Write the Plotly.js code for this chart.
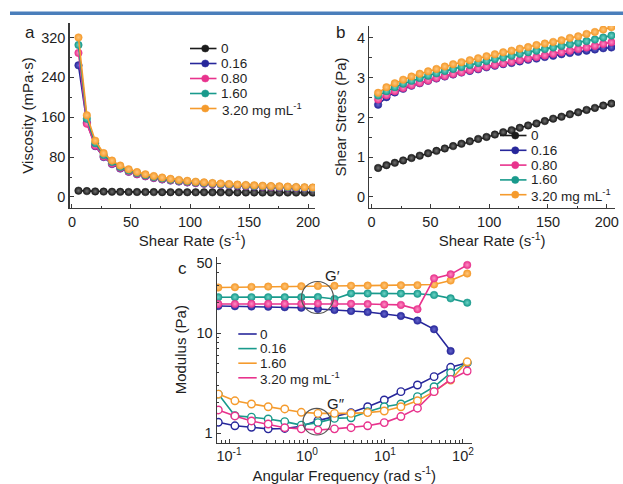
<!DOCTYPE html>
<html><head><meta charset="utf-8">
<script src="https://cdn.plot.ly/plotly-3.0.1.min.js"></script>
<style>html,body{margin:0;padding:0;background:#fff}</style>
</head><body><div id="chart" style="width:623px;height:484px"></div>
<script>
// ---------- DATA ----------
const concLabelsAB = ['0', '0.16', '0.80', '1.60', '3.20 mg mL<sup>-1</sup>'];
const concLabelsC = ['0', '0.16', '1.60', '3.20 mg mL<sup>-1</sup>'];

const shearRate = [5.5, 12.6, 19.7, 26.8, 33.9, 40.9, 48.0, 55.1, 62.2, 69.3, 76.4, 83.5, 90.6, 97.7,
  104.8, 111.9, 119.0, 126.0, 133.1, 140.2, 147.3, 154.4, 161.5, 168.6, 175.7, 182.8, 189.9, 197.0, 204.0];

// panel a: viscosity (mPa·s)
const visc0    = [12.7, 11.8, 11.2, 10.8, 10.5, 10.3, 10.1, 10.0, 9.9, 9.8, 9.7, 9.6, 9.5, 9.5, 9.4, 9.4, 9.3, 9.3, 9.2, 9.2, 9.1, 9.1, 9.0, 9.0, 8.9, 8.9, 8.9, 8.8, 8.8];
const visc016  = [264, 149, 102, 80, 66, 57, 50.5, 45.5, 41.5, 38, 35.3, 33, 31, 29.3, 27.8, 26.5, 25.3, 24.3, 23.4, 22.6, 21.8, 21.1, 20.4, 19.8, 19.2, 18.7, 18.2, 17.7, 17.3];
const visc080  = [289, 147, 103, 81, 67, 58, 51, 46, 42, 38.5, 35.8, 33.5, 31.5, 29.8, 28.3, 27, 25.8, 24.8, 23.8, 23, 22.2, 21.5, 20.8, 20.2, 19.6, 19.1, 18.6, 18.1, 17.7];
const visc160  = [305, 157, 108, 84, 70, 60, 53, 48, 43.5, 40, 37.2, 34.8, 32.7, 31, 29.4, 28, 26.8, 25.7, 24.7, 23.8, 23, 22.2, 21.5, 20.9, 20.3, 19.7, 19.2, 18.7, 18.2];
const visc320  = [320, 164, 113, 88, 73, 63, 55.5, 50, 45.5, 42, 39, 36.5, 34.3, 32.5, 30.8, 29.4, 28.1, 27, 26, 25, 24.2, 23.4, 22.7, 22, 21.4, 20.8, 20.2, 19.7, 19.2];

// panel b: shear stress (Pa)
const stress0   = [0.73, 0.80, 0.86, 0.92, 0.98, 1.04, 1.10, 1.16, 1.22, 1.28, 1.34, 1.40, 1.46, 1.51, 1.57, 1.63, 1.68, 1.74, 1.80, 1.85, 1.91, 1.97, 2.02, 2.08, 2.13, 2.19, 2.24, 2.30, 2.35];
const stress016 = [2.32, 2.51, 2.63, 2.72, 2.80, 2.86, 2.92, 2.98, 3.03, 3.08, 3.13, 3.17, 3.21, 3.26, 3.30, 3.34, 3.37, 3.41, 3.45, 3.48, 3.52, 3.55, 3.59, 3.62, 3.65, 3.68, 3.71, 3.74, 3.76];
const stress080 = [2.45, 2.56, 2.66, 2.74, 2.81, 2.87, 2.93, 2.99, 3.04, 3.09, 3.14, 3.19, 3.23, 3.28, 3.32, 3.36, 3.40, 3.44, 3.48, 3.52, 3.56, 3.60, 3.64, 3.68, 3.72, 3.76, 3.80, 3.85, 3.89];
const stress160 = [2.55, 2.66, 2.76, 2.85, 2.92, 2.99, 3.05, 3.11, 3.17, 3.22, 3.27, 3.32, 3.37, 3.42, 3.47, 3.51, 3.55, 3.60, 3.64, 3.68, 3.72, 3.76, 3.80, 3.84, 3.88, 3.92, 3.96, 4.01, 4.06];
const stress320 = [2.62, 2.76, 2.86, 2.95, 3.03, 3.10, 3.16, 3.22, 3.28, 3.34, 3.39, 3.44, 3.49, 3.54, 3.59, 3.64, 3.68, 3.73, 3.77, 3.82, 3.86, 3.90, 3.94, 4.00, 4.04, 4.10, 4.15, 4.21, 4.27];

// panel c: angular frequency (rad/s) and moduli (Pa)
const angFreq = [0.0729, 0.119, 0.194, 0.318, 0.518, 0.845, 1.38, 2.25, 3.67, 6.00, 9.79, 16.0, 26.1, 42.6, 69.5, 113.5];
const gP0   = [18.6, 18.5, 18.4, 18.3, 18.1, 17.9, 17.4, 17.0, 16.6, 16.2, 15.5, 14.8, 13.3, 10.9, 6.6];
const gP016 = [22.8, 22.8, 22.8, 22.8, 22.8, 22.8, 22.9, 21.9, 24.9, 24.9, 24.8, 24.8, 24.7, 24.0, 22.2, 20.1];
const gP160 = [28.5, 28.7, 28.9, 29.1, 29.2, 29.4, 29.5, 29.6, 29.7, 29.8, 29.9, 30.0, 30.1, 30.6, 33.5, 39.3];
const gP320 = [19.5, 19.5, 19.6, 19.6, 19.6, 19.6, 19.7, 19.7, 19.6, 19.5, 19.3, 19.1, 17.3, 35.2, 38.6, 47.9];
const gPP0   = [1.28, 1.18, 1.14, 1.10, 1.11, 1.17, 1.33, 1.46, 1.60, 1.83, 2.14, 2.59, 3.02, 3.66, 4.54, 5.05];
const gPP016 = [2.45, 1.49, 1.44, 1.38, 1.30, 1.20, 1.27, 1.40, 1.42, 1.63, 1.83, 1.95, 2.31, 2.90, 4.00, 5.05];
const gPP160 = [2.45, 2.10, 1.95, 1.83, 1.74, 1.61, 1.57, 1.57, 1.57, 1.60, 1.66, 1.83, 2.10, 2.59, 3.39, 5.15];
const gPP320 = [1.70, 1.48, 1.32, 1.23, 1.13, 1.10, 1.07, 1.10, 1.13, 1.18, 1.27, 1.46, 1.77, 2.59, 3.44, 4.17];

// ---------- STYLE ----------
const W = 623, H = 484;
const px = v => v / W, py = v => 1 - v / H;
const FONT = 'Liberation Sans, Arial, sans-serif';
const TXT = '#1e1e1e';
const C = {black: '#1b1b1b', blue: '#27279b', pink: '#e8338d', teal: '#199a8c', orange: '#f59b2d'};
const HI = {black: '#707070', blue: '#6666cc', pink: '#ff8dc4', teal: '#6ed4c6', orange: '#ffc67a'};
const abColors = ['black', 'blue', 'pink', 'teal', 'orange'];
const cColors = ['blue', 'teal', 'orange', 'pink'];

function ballTrace(x, y, col, xa, ya) {
  return {x: x, y: y, xaxis: xa, yaxis: ya, type: 'scatter', mode: 'lines+markers', showlegend: false,
    line: {color: C[col], width: 1.6},
    marker: {size: 7.5, color: C[col], line: {width: 0.5, color: C[col]}, gradient: {type: 'radial', color: HI[col]}},
    hoverinfo: 'skip'};
}
function openTrace(x, y, col) {
  return {x: x, y: y, xaxis: 'x3', yaxis: 'y3', type: 'scatter', mode: 'lines+markers', showlegend: false,
    line: {color: C[col], width: 1.6},
    marker: {size: 7.5, color: '#ffffff', line: {width: 1.4, color: C[col]}}, hoverinfo: 'skip'};
}

const viscSeries = [visc0, visc016, visc080, visc160, visc320];
const stressSeries = [stress0, stress016, stress080, stress160, stress320];
const gPSeries = [gP0, gP016, gP160, gP320];
const gPPSeries = [gPP0, gPP016, gPP160, gPP320];

const traces = [];
viscSeries.forEach((s, i) => traces.push(ballTrace(shearRate, s, abColors[i], 'x', 'y')));
stressSeries.forEach((s, i) => traces.push(ballTrace(shearRate, s, abColors[i], 'x2', 'y2')));
gPPSeries.forEach((s, i) => traces.push(openTrace(angFreq.slice(0, s.length), s, cColors[i])));
gPSeries.forEach((s, i) => traces.push(ballTrace(angFreq.slice(0, s.length), s, cColors[i], 'x3', 'y3')));

const tickFont = {family: FONT, size: 14.5, color: TXT};
const titleFont = {family: FONT, size: 15, color: TXT};
const baseAxis = {showline: true, linecolor: '#3a3a3a', linewidth: 1.2, ticks: 'inside', ticklen: 4,
  tickcolor: '#3a3a3a', tickwidth: 1, showgrid: false, zeroline: false, tickfont: tickFont, fixedrange: true};

const layout = {
  width: W, height: H, margin: {l: 0, r: 0, t: 0, b: 0}, paper_bgcolor: '#fff', plot_bgcolor: 'rgba(0,0,0,0)',
  showlegend: false, font: {family: FONT, color: TXT},
  xaxis: Object.assign({}, baseAxis, {domain: [px(69.5), px(315)], anchor: 'y', range: [-2.1, 205.9],
    tickvals: [0, 50, 100, 150, 200], minor: {ticks: 'inside', ticklen: 2.5, dtick: 25, tickcolor: '#3a3a3a'},
    title: {text: 'Shear Rate (s<sup>-1</sup>)', font: titleFont, standoff: 6}}),
  yaxis: Object.assign({}, baseAxis, {domain: [py(208), py(23)], anchor: 'x', range: [-22.1, 349],
    tickvals: [0, 80, 160, 240, 320], minor: {ticks: 'inside', ticklen: 2.5, dtick: 40, tickcolor: '#3a3a3a'},
    title: {text: 'Viscosity (mPa·s)', font: titleFont, standoff: 4}}),
  xaxis2: Object.assign({}, baseAxis, {domain: [px(369.3), px(615)], anchor: 'y2', range: [-2, 207],
    tickvals: [0, 50, 100, 150, 200], minor: {ticks: 'inside', ticklen: 2.5, dtick: 25, tickcolor: '#3a3a3a'},
    title: {text: 'Shear Rate (s<sup>-1</sup>)', font: titleFont, standoff: 6}}),
  yaxis2: Object.assign({}, baseAxis, {domain: [py(208), py(26)], anchor: 'x2', range: [-0.277, 4.30],
    tickvals: [0, 1, 2, 3, 4], minor: {ticks: 'inside', ticklen: 2.5, dtick: 0.5, tickcolor: '#3a3a3a'},
    title: {text: 'Shear Stress (Pa)', font: titleFont, standoff: 6}}),
  xaxis3: Object.assign({}, baseAxis, {type: 'log', domain: [px(216.7), px(471.7)], anchor: 'y3', range: [-1.158, 2.112],
    tickvals: [0.1, 1, 10, 100], ticktext: ['10<sup>-1</sup>', '10<sup>0</sup>', '10<sup>1</sup>', '10<sup>2</sup>'],
    minor: {ticks: 'inside', ticklen: 2.5, tickcolor: '#3a3a3a', tickmode: 'array',
      tickvals: [0.08, 0.09, 0.2, 0.3, 0.4, 0.5, 0.6, 0.7, 0.8, 0.9, 2, 3, 4, 5, 6, 7, 8, 9, 20, 30, 40, 50, 60, 70, 80, 90]},
    title: {text: 'Angular Frequency (rad s<sup>-1</sup>)', font: titleFont, standoff: 6}}),
  yaxis3: Object.assign({}, baseAxis, {type: 'log', domain: [py(442.7), py(256.7)], anchor: 'x3', range: [-0.097, 1.763],
    tickvals: [1, 10, 50], ticktext: ['1', '10', '50'],
    minor: {ticks: 'inside', ticklen: 2.5, tickcolor: '#3a3a3a', tickmode: 'array',
      tickvals: [2, 3, 4, 5, 6, 7, 8, 9, 20, 30, 40]},
    title: {text: 'Modulus (Pa)', font: titleFont, standoff: 6}}),
  shapes: [], annotations: []
};

// top rule
layout.shapes.push({type: 'rect', xref: 'paper', yref: 'paper', x0: px(10), x1: 1, y0: py(15), y1: py(11.5),
  fillcolor: '#4a7ebb', line: {width: 0}});

// G' and G'' circles
layout.shapes.push({type: 'circle', xref: 'paper', yref: 'paper', x0: px(301.5), x1: px(333.5), y0: py(313.5), y1: py(281.5),
  line: {color: '#555', width: 1.2}});
layout.shapes.push({type: 'circle', xref: 'paper', yref: 'paper', x0: px(303), x1: px(330.5), y0: py(435), y1: py(408.3),
  line: {color: '#555', width: 1.2}});

function ann(text, x, y, size, xanchor) {
  layout.annotations.push({text: text, xref: 'paper', yref: 'paper', x: px(x), y: py(y), showarrow: false,
    xanchor: xanchor || 'center', yanchor: 'middle', borderpad: 0, font: {family: FONT, size: size, color: TXT}});
}
ann('a', 30, 33, 17); ann('b', 340, 33, 17); ann('c', 182, 268, 17);
ann('G′', 332, 275, 15); ann('G″', 336, 403, 15);

// custom compact legends
function legend(labels, cols, x0, x1, textX, yTop, step, withBall) {
  labels.forEach((lab, i) => {
    const y = yTop + i * step;
    layout.shapes.push({type: 'line', xref: 'paper', yref: 'paper', x0: px(x0), x1: px(x1), y0: py(y), y1: py(y),
      line: {color: C[cols[i]], width: 1.6}});
    if (withBall) {
      const cx = (x0 + x1) / 2 + 2;
      layout.shapes.push({type: 'circle', xref: 'paper', yref: 'paper', x0: px(cx - 3.6), x1: px(cx + 3.6),
        y0: py(y + 3.6), y1: py(y - 3.6), fillcolor: C[cols[i]], line: {color: C[cols[i]], width: 0.5}});
    }
    ann(lab, textX, y, 13.5, 'left');
  });
}
legend(concLabelsAB, abColors, 190, 216.5, 220.5, 48.5, 15, true);
legend(concLabelsAB, abColors, 500, 526.5, 529.5, 135.5, 14.8, true);
legend(concLabelsC, cColors, 238.3, 256.7, 258.5, 334, 14.6, false);

Plotly.newPlot('chart', traces, layout, {displayModeBar: false, staticPlot: true});
</script></body></html>
